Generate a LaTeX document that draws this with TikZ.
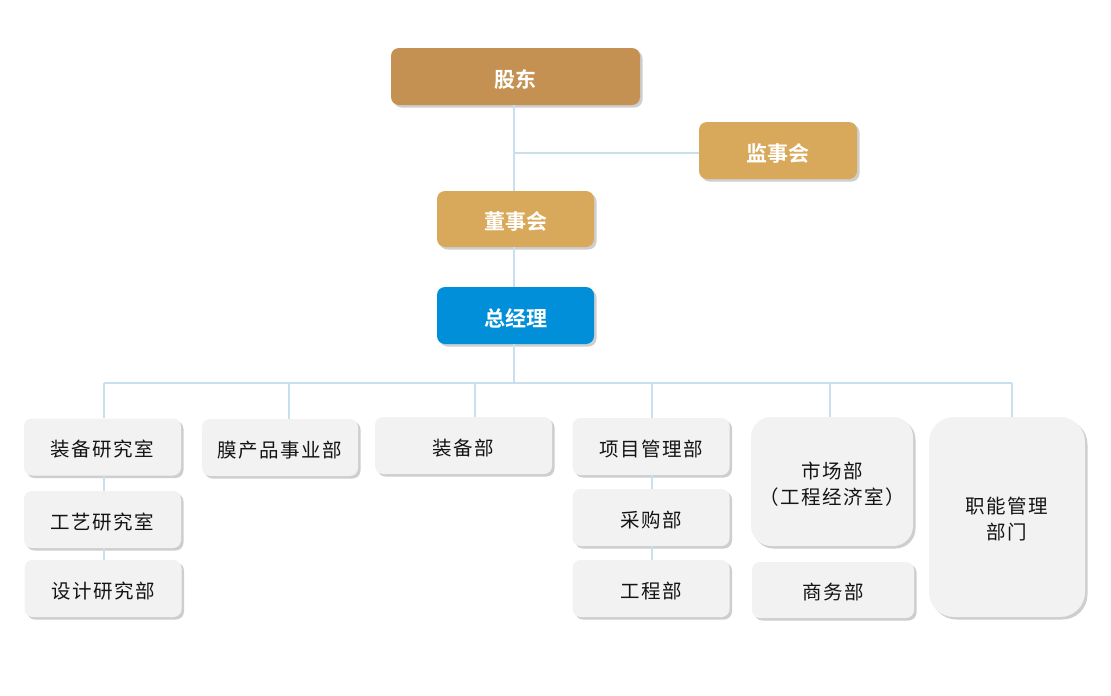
\documentclass[tikz,border=0pt]{standalone}
\usepackage{fontspec}
\usetikzlibrary{shadows}
\newfontfamily\cjk[LetterSpace=8]{Noto Sans CJK SC}
\newfontfamily\cjkb[LetterSpace=0]{Noto Sans CJK SC Bold}
\newcommand{\lowr}[1]{\raisebox{-2.5pt}[\height][\depth]{#1}}
\definecolor{gdcol}{RGB}{196,145,82}
\definecolor{gold}{RGB}{216,169,90}
\definecolor{gmblue}{RGB}{0,143,216}
\definecolor{boxgray}{RGB}{242,242,242}
\definecolor{linecol}{RGB}{200,224,238}
\definecolor{txt}{RGB}{20,20,20}
\tikzset{
  x=1pt,y=1pt,
  shad/.style={drop shadow={shadow xshift=2.5pt,shadow yshift=-2.5pt,opacity=0.35,fill=black!55}},
  topbox/.style={shad,rounded corners=8pt,inner sep=0pt,text=white,font=\cjkb\fontsize{21pt}{25pt}\selectfont},
  subbox/.style={shad,fill=boxgray,rounded corners=8pt,inner sep=0pt,text=txt,align=center,font=\cjk\fontsize{19.5pt}{26pt}\selectfont,minimum width=157pt,minimum height=57pt},
  conn/.style={draw=linecol,line width=1.3pt}
}
\begin{document}
\begin{tikzpicture}
\useasboundingbox (0,0) rectangle (1111,-696);
\coordinate (tj) at (514,-153);
\coordinate (bus0) at (514,-383);
\coordinate (b1) at (104,-383);
\coordinate (b2) at (289,-383);
\coordinate (b3) at (475,-383);
\coordinate (b4) at (652,-383);
\coordinate (b5) at (830,-383);
\coordinate (b6) at (1012,-383);
% boxes
\node[topbox,fill=gdcol,minimum width=249pt,minimum height=57pt] (gd) at (515.5,-76.5) {\lowr{股东}};
\node[topbox,fill=gold,minimum width=158pt,minimum height=57pt] (js) at (778,-150.5) {\lowr{监事会}};
\node[topbox,fill=gold,minimum width=157pt,minimum height=56pt] (ds) at (515.5,-219) {\lowr{董事会}};
\node[topbox,fill=gmblue,minimum width=157pt,minimum height=57pt] (zj) at (515.5,-315.5) {\lowr{总经理}};
\node[subbox] (zy) at (102.5,-447) {\lowr{装备研究室}};
\node[subbox] (gy) at (102.5,-519.5) {\lowr{工艺研究室}};
\node[subbox] (sj) at (103,-588.5) {\lowr{设计研究部}};
\node[subbox,minimum width=156pt] (mc) at (280,-447.5) {\lowr{膜产品事业部}};
\node[subbox,minimum width=177pt] (zb) at (463.5,-445.5) {\lowr{装备部}};
\node[subbox] (xm) at (651,-446.5) {\lowr{项目管理部}};
\node[subbox] (cg) at (651,-517.5) {\lowr{采购部}};
\node[subbox] (gc) at (651,-588.5) {\lowr{工程部}};
\node[subbox,minimum width=162pt,minimum height=129pt,rounded corners=20pt] (sc) at (832,-481.5) {\lowr{市场部}\\\lowr{（工程经济室）}};
\node[subbox,minimum width=162pt,minimum height=56pt] (sw) at (833,-590) {\lowr{商务部}};
\node[subbox,minimum width=156pt,minimum height=200pt,rounded corners=25pt] (zn) at (1007,-517) {\lowr{职能管理}\\\lowr{部门}};
% connectors
\draw[conn] (gd.south -| 514,0) -- (ds.north -| 514,0);
\draw[conn] (tj) -- (js.west |- tj);
\draw[conn] (ds.south -| 514,0) -- (zj.north -| 514,0);
\draw[conn] (zj.south -| 514,0) -- (bus0);
\draw[conn] (b1) -- (b6);
\draw[conn] (b1) -- (zy.north -| b1);
\draw[conn] (b2) -- (mc.north -| b2);
\draw[conn] (b3) -- (zb.north -| b3);
\draw[conn] (b4) -- (xm.north -| b4);
\draw[conn] (b5) -- (sc.north -| b5);
\draw[conn] (b6) -- (zn.north -| b6);
\draw[conn] (zy.south -| b1) -- (gy.north -| b1);
\draw[conn] (gy.south -| b1) -- (sj.north -| b1);
\draw[conn] (xm.south -| b4) -- (cg.north -| b4);
\draw[conn] (cg.south -| b4) -- (gc.north -| b4);
\end{tikzpicture}
\end{document}
